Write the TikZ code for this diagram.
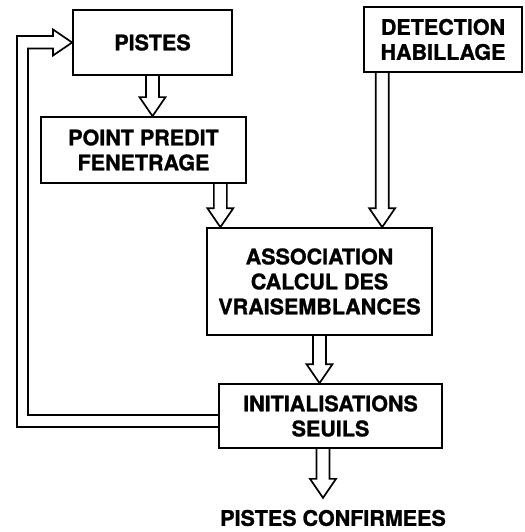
\documentclass[tikz,border=0pt]{standalone}
\usepackage{fontspec}
\setmainfont{TeX Gyre Heros}[BoldFeatures={FakeBold=1.2}]
\usetikzlibrary{calc}
\newcommand\vharrow[2]{%
  \draw[arr] ($(#1)+(-6.5,0)$) -- ($(#2)+(-6.5,-19)$) -- ($(#2)+(-13,-19)$) -- (#2)
    -- ($(#2)+(13,-19)$) -- ($(#2)+(6.5,-19)$) -- ($(#1)+(6.5,0)$);}
\begin{document}
\begin{tikzpicture}[x=1pt,y=-1pt,
  box/.style={draw, line width=1.7pt, inner sep=0pt, align=center,
    font=\bfseries\fontsize{21.5}{25}\selectfont},
  lbl/.style={inner sep=0pt, font=\bfseries\fontsize{21.5}{25}\selectfont},
  arr/.style={draw, line width=1.7pt, line join=miter}]
\useasboundingbox (0,0) rectangle (524,532);
\node[box, minimum width=159pt, minimum height=65pt] (pistes) at (152.5,42.5) {PISTES};
\node[box, minimum width=205pt, minimum height=66pt] (point) at (143.5,150) {POINT PREDIT\\FENETRAGE};
\node[box, minimum width=158pt, minimum height=65pt] (detect) at (443,39.5) {DETECTION\\HABILLAGE};
\node[box, minimum width=225pt, minimum height=107pt] (assoc) at (319.5,281.5) {ASSOCIATION\\CALCUL DES\\VRAISEMBLANCES};
\node[box, minimum width=223pt, minimum height=64pt] (init) at (330.5,416) {INITIALISATIONS\\SEUILS};
\node[lbl] (conf) at (333,518) {PISTES CONFIRMEES};
% connectors
\coordinate (a1e) at (pistes.south |- point.north);
\vharrow{pistes.south}{a1e}
\coordinate (a2s) at ($(point.south east)+(-26.5,0)$);
\coordinate (a2e) at (a2s |- assoc.north);
\vharrow{a2s}{a2e}
\coordinate (a3s) at ($(detect.south west)+(19,0)$);
\coordinate (a3e) at (a3s |- assoc.north);
\vharrow{a3s}{a3e}
\coordinate (a4e) at (assoc.south |- init.north);
\vharrow{assoc.south}{a4e}
\coordinate (a5s) at ($(init.south)+(-7.5,0)$);
\coordinate (a5e) at ($(a5s)+(0,49)$);
\vharrow{a5s}{a5e}
% feedback
\draw[arr] ($(init.west)+(0,11)$) -- (17,427) -- (17,36) -- (53,36) -- (53,29.5)
  -- (pistes.west) -- (53,55.5) -- (53,48.5) -- (28,48.5) -- (28,415)
  -- ($(init.west)+(0,-1)$);
\end{tikzpicture}
\end{document}
